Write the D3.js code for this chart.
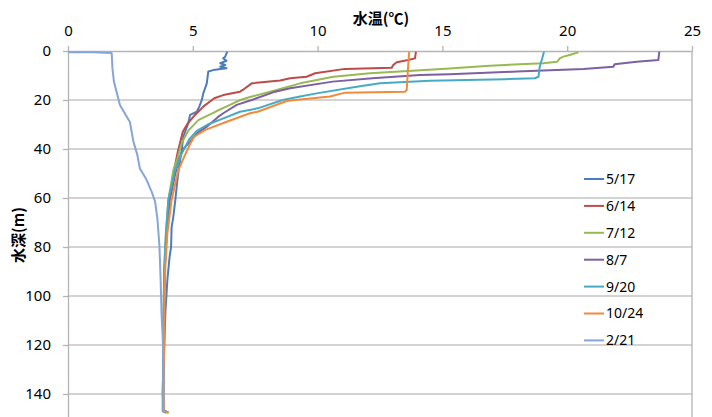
<!DOCTYPE html>
<html>
<head>
<meta charset="utf-8">
<script src="https://d3js.org/d3.v7.min.js"></script>
<style>
  body { margin: 0; background: #fff; }
  svg text { font-family: "Noto Sans", "Noto Sans CJK JP", sans-serif; fill: #000; }
</style>
</head>
<body>
<div id="chart"></div>
<script>
// [depth (m), water temperature (C)]
var s0517 = [[0.3,6.38],[2.3,6.3],[3,6.22],[4,6.35],[5,6.1],[5.7,6.3],[6.4,6.1],[7,6.35],[7.8,5.82],[8.4,5.62],[13.2,5.56],[17.3,5.42],[20,5.36],[22.7,5.26],[24.8,5.16],[26.1,4.89],[29.5,4.82],[35,4.62],[41,4.55],[47.2,4.45],[53,4.38],[60.8,4.3],[67.6,4.22],[72,4.15],[80,4.13],[84,4.07],[93.5,3.98],[107,3.9],[127,3.84],[146.5,3.83],[147.6,4.02]];
var s0614 = [[0.3,13.94],[3,13.9],[3.7,13.63],[4.6,13.17],[5.7,13.03],[6.8,12.97],[7.3,11.1],[9.1,9.9],[10.5,9.56],[11.1,8.9],[12,8.5],[13.2,7.36],[15.9,7.0],[16.6,6.89],[18,6.22],[19.3,5.86],[20.5,5.7],[22.7,5.42],[26.1,5.09],[29.5,4.8],[33,4.6],[41.1,4.4],[48.6,4.25],[60.8,4.05],[74.4,3.95],[88,3.88],[100,3.85],[120,3.82],[140,3.8],[147,3.82],[147.6,3.95]];
var s0712 = [[0.5,20.45],[1.6,20.1],[2.3,19.85],[3,19.7],[4.4,19.6],[5,19.04],[6,16.9],[6.8,15.7],[7.1,15.3],[9.1,12.1],[10.5,10.63],[13.2,9.3],[15.9,8.36],[18.8,7.29],[20,6.9],[22,6.49],[24.5,5.96],[28.2,5.22],[32.5,4.82],[37.7,4.55],[44,4.38],[48.6,4.22],[60.8,4.02],[74.4,3.93],[88,3.86],[100,3.84],[120,3.82],[140,3.8],[147,3.82],[147.6,4.05]];
var s0807 = [[0.3,23.69],[3.7,23.65],[4.4,22.78],[5.4,21.9],[6.4,21.85],[7.3,20.65],[8.4,17.98],[9.5,15.3],[9.8,14.1],[11.1,12.2],[12.5,10.6],[15.2,8.9],[16.6,8.3],[20,7.36],[22,6.76],[25.4,6.22],[27,6.0],[30.9,5.56],[33.6,5.16],[37,4.89],[40,4.62],[44,4.45],[50,4.3],[60.8,4.08],[74.4,3.95],[88,3.88],[100,3.85],[120,3.82],[140,3.8],[147,3.8],[147.6,3.95]];
var s0920 = [[0.3,19.07],[3,19.0],[6.4,18.9],[10.5,18.85],[11.1,18.7],[11.5,17.5],[12.1,14.5],[13.2,12.5],[14.6,11.57],[17.3,9.96],[18.6,9.3],[20,8.6],[23.4,7.6],[24.8,6.89],[27.2,6.3],[30,5.6],[32.6,5.16],[36,4.86],[42,4.55],[48.6,4.29],[60.8,4.02],[74.4,3.92],[88,3.86],[100,3.84],[120,3.82],[140,3.8],[147,3.8],[147.6,3.9]];
var s1024 = [[0.3,13.67],[5.7,13.63],[15.9,13.57],[16.6,13.5],[17,11.1],[18.6,10.5],[19.8,9.3],[20.4,8.76],[24.8,7.6],[25.4,7.29],[28.9,6.36],[32.2,5.5],[35,5.05],[38,4.89],[42.4,4.69],[48.6,4.42],[60.8,4.15],[74.4,3.98],[88,3.9],[100,3.87],[120,3.85],[140,3.83],[147,3.85],[147.6,4.0]];
var s0221 = [[0.5,0],[0.5,1.0],[0.8,1.75],[7,1.78],[12.5,1.84],[18,1.98],[22,2.08],[25.5,2.28],[29,2.48],[37,2.62],[42.5,2.78],[48,2.88],[52,3.12],[57.4,3.35],[61.5,3.49],[68.3,3.58],[79,3.66],[92.8,3.71],[107.8,3.75],[118,3.8],[130,3.82],[147,3.82],[147.6,3.85]];

var seriesNames = ["5/17", "6/14", "7/12", "8/7", "9/20", "10/24", "2/21"];
var seriesData = [s0517, s0614, s0712, s0807, s0920, s1024, s0221];
var colors = ["#4A7EBB", "#BE4B48", "#98B954", "#7D60A0", "#46AAC5", "#F38A3A", "#86A5D8"];
var xTicks = [0, 5, 10, 15, 20, 25];
var yTicks = [0, 20, 40, 60, 80, 100, 120, 140];

var width = 712, height = 417;
var plotLeft = 68, plotRight = 692, plotTop = 51, plotBottom = 418.5;

var svg = d3.select("#chart").append("svg")
  .attr("width", width)
  .attr("height", height);

var x = d3.scaleLinear().domain([0, 25]).range([plotLeft, plotRight]);
var y = d3.scaleLinear().domain([0, 150]).range([plotTop, plotBottom]);

// horizontal gridlines
svg.append("g")
  .selectAll("line")
  .data(yTicks.slice(1))
  .enter().append("line")
  .attr("x1", plotLeft).attr("x2", plotRight)
  .attr("y1", function(d) { return y(d); })
  .attr("y2", function(d) { return y(d); })
  .attr("stroke", "#c4c4c4")
  .attr("stroke-width", 1.3);

// right border
svg.append("line")
  .attr("x1", plotRight).attr("x2", plotRight)
  .attr("y1", plotTop).attr("y2", plotBottom)
  .attr("stroke", "#b4b4b4")
  .attr("stroke-width", 1.3);

svg.append("g")
  .attr("transform", "translate(0," + plotTop + ")")
  .call(d3.axisTop(x).tickValues(xTicks).tickSize(5).tickSizeOuter(0).tickPadding(10));

svg.append("g")
  .attr("transform", "translate(" + plotLeft + ",0)")
  .call(d3.axisLeft(y).tickValues(yTicks).tickSize(5).tickSizeOuter(0).tickPadding(12));

svg.selectAll(".domain, .tick line")
  .attr("stroke", "#b4b4b4")
  .attr("stroke-width", 1.3);
svg.selectAll(".tick text")
  .style("font-size", "15px")
  .style("font-family", "'Noto Sans', sans-serif")
  .attr("fill", "#000");

// lines
var line = d3.line()
  .x(function(d) { return x(d[1]); })
  .y(function(d) { return y(d[0]); });

seriesData.forEach(function(s, i) {
  svg.append("path")
    .attr("d", line(s))
    .attr("fill", "none")
    .attr("stroke", colors[i])
    .attr("stroke-width", 2)
    .attr("stroke-linejoin", "round");
});

// titles
svg.append("text")
  .attr("x", 381)
  .attr("y", 24)
  .attr("text-anchor", "middle")
  .style("font-size", "15px")
  .style("font-weight", "bold")
  .style("font-family", "'Noto Sans CJK JP', sans-serif")
  .text("水温(℃)");

svg.append("text")
  .attr("transform", "translate(24,235) rotate(-90)")
  .attr("text-anchor", "middle")
  .style("font-size", "15px")
  .style("font-weight", "bold")
  .style("font-family", "'Noto Sans CJK JP', sans-serif")
  .text("水深(m)");

// legend
var legend = svg.append("g").attr("transform", "translate(584,179)");
seriesNames.forEach(function(name, i) {
  var g = legend.append("g").attr("transform", "translate(0," + (i * 26.9) + ")");
  g.append("line")
    .attr("x1", 0).attr("x2", 20)
    .attr("stroke", colors[i])
    .attr("stroke-width", 2);
  g.append("text")
    .attr("x", 22)
    .attr("dy", "0.35em")
    .style("font-size", "14px")
    .text(name);
});
</script>
</body>
</html>
